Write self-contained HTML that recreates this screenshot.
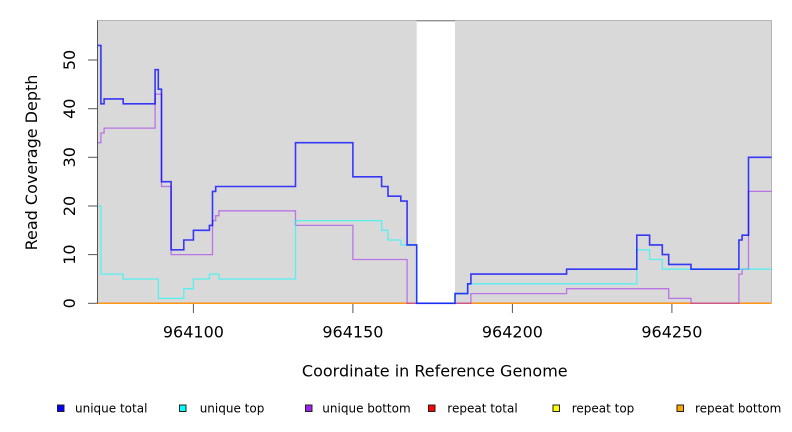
<!DOCTYPE html>
<html>
<head>
<meta charset="utf-8">
<style>
  html, body { margin: 0; padding: 0; background: #ffffff; }
  svg { display: block; }
  text { font-family: "DejaVu Sans", "Liberation Sans", sans-serif; fill: #000; }
</style>
</head>
<body>
<svg width="792" height="432" viewBox="0 0 792 432" xmlns="http://www.w3.org/2000/svg">
  <!-- plot background -->
  <rect x="97.3" y="20.5" width="674.2" height="282.8" fill="#d9d9d9"/>
  <!-- gap -->
  <rect x="416.7" y="21" width="38.3" height="282.3" fill="#ffffff"/>
  <!-- frame top/right -->
  <line x1="97.3" y1="20.5" x2="771.5" y2="20.5" stroke="#b4b4b4" stroke-width="1"/>
  <line x1="416.7" y1="20.8" x2="455" y2="20.8" stroke="#888888" stroke-width="1.2"/>
  <line x1="771.5" y1="20.5" x2="771.5" y2="303.3" stroke="#b4b4b4" stroke-width="1"/>

  <!-- baseline repeat lines -->
  <line x1="97.5" y1="303.3" x2="771.5" y2="303.3" stroke="#ff0000" stroke-width="1.2"/>
  <line x1="97.5" y1="303.3" x2="771.5" y2="303.3" stroke="#ffa500" stroke-width="1.2"/>

  <!-- unique bottom (purple) -->
  <polyline fill="none" stroke="#a020f0" stroke-opacity="0.55" stroke-width="1.3" points="97.5,142.7 100.9,142.7 100.9,133.0 104.1,133.0 104.1,128.1 155.1,128.1 155.1,94.1 161.5,94.1 161.5,186.5 171.1,186.5 171.1,254.6 212.5,254.6 212.5,220.6 215.7,220.6 215.7,215.7 218.9,215.7 218.9,210.8 295.5,210.8 295.5,225.4 352.9,225.4 352.9,259.5 407.1,259.5 407.1,303.3 470.9,303.3 470.9,293.6 566.6,293.6 566.6,288.7 668.7,288.7 668.7,298.4 691.0,298.4 691.0,303.3 738.9,303.3 738.9,274.1 742.1,274.1 742.1,269.2 748.5,269.2 748.5,191.4 771.5,191.4"/>

  <!-- unique top (cyan) -->
  <polyline fill="none" stroke="#00ffff" stroke-opacity="0.6" stroke-width="1.3" points="97.5,206.0 100.9,206.0 100.9,274.1 123.2,274.1 123.2,279.0 158.3,279.0 158.3,298.4 183.8,298.4 183.8,288.7 193.4,288.7 193.4,279.0 209.4,279.0 209.4,274.1 218.9,274.1 218.9,279.0 295.5,279.0 295.5,220.6 381.6,220.6 381.6,230.3 388.0,230.3 388.0,240.0 400.8,240.0 400.8,244.9 416.7,244.9 416.7,303.3 455.0,303.3 455.0,293.6 467.7,293.6 467.7,283.8 636.8,283.8 636.8,249.8 649.6,249.8 649.6,259.5 662.3,259.5 662.3,269.2 771.5,269.2"/>

  <!-- unique total (blue) -->
  <polyline fill="none" stroke="#0000ff" stroke-opacity="0.75" stroke-width="1.6" points="97.5,45.4 100.9,45.4 100.9,103.8 104.1,103.8 104.1,98.9 123.2,98.9 123.2,103.8 155.1,103.8 155.1,69.7 158.3,69.7 158.3,89.2 161.5,89.2 161.5,181.7 171.1,181.7 171.1,249.8 183.8,249.8 183.8,240.0 193.4,240.0 193.4,230.3 209.4,230.3 209.4,225.4 212.5,225.4 212.5,191.4 215.7,191.4 215.7,186.5 295.5,186.5 295.5,142.7 352.9,142.7 352.9,176.8 381.6,176.8 381.6,186.5 388.0,186.5 388.0,196.2 400.8,196.2 400.8,201.1 407.1,201.1 407.1,244.9 416.7,244.9 416.7,303.3 455.0,303.3 455.0,293.6 467.7,293.6 467.7,283.8 470.9,283.8 470.9,274.1 566.6,274.1 566.6,269.2 636.8,269.2 636.8,235.2 649.6,235.2 649.6,244.9 662.3,244.9 662.3,254.6 668.7,254.6 668.7,264.4 691.0,264.4 691.0,269.2 738.9,269.2 738.9,240.0 742.1,240.0 742.1,235.2 748.5,235.2 748.5,157.3 771.5,157.3"/>

  <!-- left axis -->
  <line x1="97.5" y1="20.5" x2="97.5" y2="303.5" stroke="#555555" stroke-width="1"/>
  <g stroke="#555555" stroke-width="1">
    <line x1="88" y1="303.3" x2="97.5" y2="303.3"/>
    <line x1="88" y1="254.6" x2="97.5" y2="254.6"/>
    <line x1="88" y1="206.0" x2="97.5" y2="206.0"/>
    <line x1="88" y1="157.3" x2="97.5" y2="157.3"/>
    <line x1="88" y1="108.7" x2="97.5" y2="108.7"/>
    <line x1="88" y1="60.0" x2="97.5" y2="60.0"/>
  </g>
  <g font-size="16" text-anchor="middle">
    <text transform="translate(75,303.3) rotate(-90)">0</text>
    <text transform="translate(75,254.6) rotate(-90)">10</text>
    <text transform="translate(75,206.0) rotate(-90)">20</text>
    <text transform="translate(75,157.3) rotate(-90)">30</text>
    <text transform="translate(75,108.7) rotate(-90)">40</text>
    <text transform="translate(75,60.0) rotate(-90)">50</text>
  </g>
  <text transform="translate(37,162.5) rotate(-90)" font-size="16" text-anchor="middle">Read Coverage Depth</text>

  <!-- x ticks -->
  <g stroke="#555555" stroke-width="1">
    <line x1="193.4" y1="304" x2="193.4" y2="313"/>
    <line x1="352.9" y1="304" x2="352.9" y2="313"/>
    <line x1="512.4" y1="304" x2="512.4" y2="313"/>
    <line x1="671.9" y1="304" x2="671.9" y2="313"/>
  </g>
  <g font-size="16" text-anchor="middle">
    <text x="193.4" y="337.5">964100</text>
    <text x="352.9" y="337.5">964150</text>
    <text x="512.4" y="337.5">964200</text>
    <text x="671.9" y="337.5">964250</text>
  </g>
  <text x="434.8" y="376.7" font-size="16" text-anchor="middle">Coordinate in Reference Genome</text>

  <!-- legend -->
  <g stroke="#222222" stroke-width="1">
    <rect x="57.5" y="405" width="6.5" height="6.5" fill="#0000ff"/>
    <rect x="179.5" y="405" width="6.5" height="6.5" fill="#00ffff"/>
    <rect x="305.5" y="405" width="6.5" height="6.5" fill="#a020f0"/>
    <rect x="428.5" y="405" width="6.5" height="6.5" fill="#ff0000"/>
    <rect x="553" y="405" width="6.5" height="6.5" fill="#ffff00"/>
    <rect x="677" y="405" width="6.5" height="6.5" fill="#ffa500"/>
  </g>
  <g font-size="12">
    <text x="75" y="412.3">unique total</text>
    <text x="199.7" y="412.3">unique top</text>
    <text x="322.3" y="412.3">unique bottom</text>
    <text x="447.3" y="412.3">repeat total</text>
    <text x="571.7" y="412.3">repeat top</text>
    <text x="695" y="412.3">repeat bottom</text>
  </g>
</svg>
</body>
</html>
